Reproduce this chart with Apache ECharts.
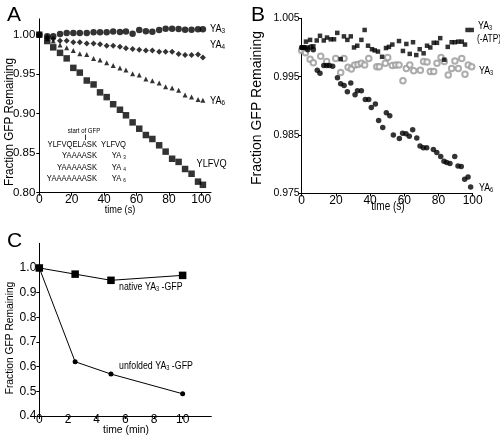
<!DOCTYPE html>
<html><head><meta charset="utf-8">
<script src="https://cdn.jsdelivr.net/npm/echarts@6/dist/echarts.min.js"></script>
<style>html,body{margin:0;padding:0;background:#fff}#c{width:500px;height:440px}</style>
</head><body><div id="c"></div>
<script>
// ---------- Panel A data ----------
const tA = [0, 4.9, 8.6, 12.8, 16.9, 21, 25, 29.3, 33.5, 37.5, 41.6, 45.6, 49.8, 53.5, 57.6, 61.7, 65.8, 69.8, 74, 78, 82, 86, 90, 94, 98, 101];
const aYA3 = [1.000, 0.998, 0.998, 1.001, 1.002, 1.002, 1.002, 1.002, 1.003, 1.003, 1.003, 1.004, 1.0035, 1.004, 1.0013, 1.006, 1.0043, 1.0038, 1.006, 1.0076, 1.0076, 1.0072, 1.0063, 1.0063, 1.0068, 1.0068];
const aYA4 = [1.000, 0.997, 0.995, 0.9924, 0.9924, 0.9903, 0.9903, 0.989, 0.989, 0.9878, 0.986, 0.986, 0.9848, 0.9828, 0.982, 0.981, 0.980, 0.980, 0.9785, 0.9785, 0.9785, 0.9756, 0.9743, 0.9743, 0.975, 0.971];
const aYA6 = [1.000, 0.995, 0.992, 0.987, 0.9835, 0.980, 0.976, 0.975, 0.970, 0.968, 0.9646, 0.961, 0.958, 0.9553, 0.9506, 0.949, 0.944, 0.9418, 0.939, 0.934, 0.9325, 0.9296, 0.9237, 0.921, 0.918, 0.917];
const aYLFVQ = [1.000, 0.992, 0.984, 0.977, 0.970, 0.958, 0.952, 0.942, 0.937, 0.927, 0.921, 0.912, 0.905, 0.898, 0.889, 0.881, 0.873, 0.868, 0.860, 0.852, 0.843, 0.839, 0.830, 0.824, 0.814, 0.810];
const aXTicks = [0, 20, 40, 60, 80, 100];
const aYTicks = [0.80, 0.85, 0.90, 0.95, 1.00];

// ---------- Panel B data ----------
const tBatp = [0.2, 1.3, 2.5, 3.3, 4.9, 6.8, 8.8, 10.7, 12.9, 14.8, 17, 18.9, 20.8, 22.8, 24.7, 26.7, 28.7, 30.6, 32.5, 34.9, 36.8, 38.8, 41.1, 42.7, 44.6, 47, 49.3, 51, 53, 56.9, 59.2, 61.2, 63.2, 65.1, 67, 69, 71.3, 73.3, 75.2, 77.2, 79.1, 81, 83.4, 85.4, 87.7, 89.6, 91.6, 93.6, 95.5, 97, 99.4];
const bYA3atp = [1.000, 1.000, 1.001, 1.000, 1.0013, 1.0002, 1.0012, 1.002, 1.0012, 1.0017, 1.0014, 1.0014, 1.0025, 0.998, 1.0019, 1.0013, 1.0019, 1.000, 1.0003, 1.0013, 1.003, 1.0003, 0.9997, 0.9995, 0.9993, 0.9984, 0.9999, 1.0001, 1.0005, 1.0011, 0.9994, 1.0006, 0.9989, 1.0009, 0.9987, 0.9997, 0.999, 1.0003, 1.000, 1.0008, 1.0008, 1.0016, 0.9979, 1.0001, 1.0009, 1.0009, 1.001, 1.001, 1.0005, 1.003, 1.003];
const tB3 = [0, 2.2, 4.9, 6.8, 11.1, 14.6, 19.9, 22.8, 24.7, 27.1, 29, 31, 32.9, 34.9, 36.8, 39.2, 43.9, 45.4, 48.9, 50.3, 53, 55, 56.9, 59.2, 61.2, 63.2, 65.5, 69.4, 71.3, 73.3, 75.2, 77.2, 79.1, 81.5, 83.4, 85.7, 87.7, 89.6, 91.6, 93.6, 95.5, 97.4, 99.4];
const bYA3 = [0.9995, 0.9991, 0.998, 0.9974, 0.9985, 0.9976, 0.9981, 0.9957, 0.9981, 0.9966, 0.9963, 0.997, 0.9971, 0.9973, 0.997, 0.9981, 0.9967, 0.9967, 0.9973, 0.9983, 0.9969, 0.997, 0.997, 0.9943, 0.9964, 0.997, 0.996, 0.9961, 0.9976, 0.9975, 0.9959, 0.9959, 0.9973, 0.9983, 0.9976, 0.9953, 0.9964, 0.9977, 0.9964, 0.9981, 0.9954, 0.997, 0.9967];
const tB6 = [0, 1.5, 3.5, 5.3, 6.8, 9.1, 10.7, 12.9, 14.6, 16.2, 18.1, 20.9, 22.8, 24.8, 26.7, 28.7, 31.2, 32.6, 34.9, 37.2, 39.2, 40.7, 43.1, 45, 47.4, 49.5, 51.5, 53.6, 57.1, 59, 61, 62.9, 64.9, 67.3, 69.2, 71.1, 73.1, 77, 79, 81.3, 83.2, 84.8, 86.7, 89.5, 91.4, 93.3, 95.3, 97.3, 98.8];
const bYA6 = [1.0000, 1.0000, 0.9996, 1.0001, 0.9996, 0.9961, 0.9956, 0.9969, 0.9969, 0.9969, 0.9968, 0.9948, 0.9938, 0.9935, 0.9924, 0.9939, 0.9919, 0.9926, 0.9926, 0.9911, 0.9911, 0.9897, 0.9903, 0.9875, 0.9863, 0.9888, 0.9883, 0.9850, 0.9844, 0.9853, 0.9852, 0.9848, 0.9859, 0.9845, 0.9831, 0.9828, 0.9828, 0.9825, 0.9820, 0.9813, 0.9805, 0.9803, 0.9801, 0.9813, 0.9797, 0.9796, 0.9774, 0.9778, 0.9761];
const bXTicks = [0, 20, 40, 60, 80, 100];
const bYTicks = [0.975, 0.985, 0.995, 1.005];

// ---------- Panel C data ----------
const tC = [0, 2.5, 5, 10];
const cNative = [1.0, 0.975, 0.95, 0.97];
const cUnfolded = [1.0, 0.62, 0.57, 0.49];
const cXTicks = [0, 2, 4, 6, 8, 10];
const cYTicks = [0.4, 0.5, 0.6, 0.7, 0.8, 0.9, 1.0];

const F = "'Liberation Sans',Arial,sans-serif";
const zip = (t, v) => t.map((x, i) => [x, v[i]]);

function xAx(gi, min, max, ticks, fs, margin) {
  return {
    gridIndex: gi, type: 'value', min: min, max: max,
    axisLine: {show: true, onZero: false, lineStyle: {color: '#000', width: 1}},
    axisTick: {show: true, length: 3, inside: false, customValues: ticks, lineStyle: {color: '#000'}},
    axisLabel: {customValues: ticks, margin: margin, fontSize: fs, color: '#000', fontFamily: F},
    splitLine: {show: false}
  };
}
function yAx(gi, min, max, ticks, dec, fs, margin) {
  return {
    gridIndex: gi, type: 'value', min: min, max: max,
    axisLine: {show: true, onZero: false, lineStyle: {color: '#000', width: 1}},
    axisTick: {show: true, length: 3, customValues: ticks, lineStyle: {color: '#000'}},
    axisLabel: {customValues: ticks, margin: margin, fontSize: fs, color: '#000', fontFamily: F,
      formatter: v => Number(v).toFixed(dec)},
    splitLine: {show: false}
  };
}
// text helper: sx = horizontal squeeze to mimic the condensed original typeface
function txt(x, y, text, fs, align, rich, sx, rot) {
  return {type: 'text', x: x, y: y, silent: true, scaleX: sx || 0.8, rotation: rot || 0,
    style: {text: text, fontSize: fs, fontFamily: F, fill: '#000', align: align || 'left', verticalAlign: 'middle', rich: rich}};
}
const sub = (fs) => ({a: {fontSize: fs, fontFamily: F, fill: '#000'}, s: {fontSize: Math.round(fs * 0.68), fontFamily: F, fill: '#000', padding: [4, 0, 0, 0]}});
const YN = 'Fraction GFP Remaining';

const option = {
  animation: false,
  backgroundColor: '#fff',
  textStyle: {fontFamily: F},
  title: [
    {text: 'A', left: 2, top: 0, textStyle: {fontSize: 21, fontWeight: 'normal', color: '#000', fontFamily: F}},
    {text: 'B', left: 246, top: 0, textStyle: {fontSize: 21, fontWeight: 'normal', color: '#000', fontFamily: F}},
    {text: 'C', left: 2, top: 226, textStyle: {fontSize: 21, fontWeight: 'normal', color: '#000', fontFamily: F}}
  ],
  grid: [
    {left: 39.3, top: 18.9, width: 171.7, height: 173.8},
    {left: 301.7, top: 18.3, width: 171, height: 175},
    {left: 39.3, top: 243.3, width: 172, height: 172.7}
  ],
  xAxis: [
    xAx(0, 0, 106, aXTicks, 12, 1),
    xAx(1, 0, 100, bXTicks, 12, 1),
    xAx(2, 0, 12, cXTicks, 12, -2)
  ],
  yAxis: [
    yAx(0, 0.80, 1.02, aYTicks, 2, 11.5, 4),
    yAx(1, 0.975, 1.005, bYTicks, 3, 10.5, 2),
    yAx(2, 0.4, 1.1, cYTicks, 1, 12, 3)
  ],
  series: [
    {type: 'scatter', xAxisIndex: 0, yAxisIndex: 0, symbol: 'circle', symbolSize: 6.5, itemStyle: {color: '#000'}, data: zip(tA, aYA3)},
    {type: 'scatter', xAxisIndex: 0, yAxisIndex: 0, symbol: 'diamond', symbolSize: 6, itemStyle: {color: '#000'}, data: zip(tA, aYA4)},
    {type: 'scatter', xAxisIndex: 0, yAxisIndex: 0, symbol: 'triangle', symbolSize: 5, itemStyle: {color: '#000'}, data: zip(tA, aYA6)},
    {type: 'scatter', xAxisIndex: 0, yAxisIndex: 0, symbol: 'rect', symbolSize: 6.5, itemStyle: {color: '#000'}, data: zip(tA, aYLFVQ)},

    {type: 'scatter', xAxisIndex: 1, yAxisIndex: 1, symbol: 'emptyCircle', symbolSize: 5.5, itemStyle: {color: '#999', borderColor: '#999', borderWidth: 0.8}, data: zip(tB3, bYA3)},
    {type: 'scatter', xAxisIndex: 1, yAxisIndex: 1, symbol: 'circle', symbolSize: 5.5, itemStyle: {color: '#000'}, data: zip(tB6, bYA6)},
    {type: 'scatter', xAxisIndex: 1, yAxisIndex: 1, symbol: 'rect', symbolSize: 4.5, itemStyle: {color: '#000'}, data: zip(tBatp, bYA3atp)},

    {type: 'line', xAxisIndex: 2, yAxisIndex: 2, symbol: 'circle', symbolSize: 5, showSymbol: true, lineStyle: {color: '#000', width: 1}, itemStyle: {color: '#000'}, data: zip(tC, cUnfolded)},
    {type: 'line', xAxisIndex: 2, yAxisIndex: 2, symbol: 'rect', symbolSize: 7.5, showSymbol: true, lineStyle: {color: '#000', width: 1}, itemStyle: {color: '#000'}, data: zip(tC, cNative)}
  ],
  graphic: [
    // axis names
    txt(9.5, 122, YN, 12.5, 'center', null, 0.93, Math.PI / 2),
    txt(257, 108, YN, 14, 'center', null, 1.0, Math.PI / 2),
    txt(9.5, 338, YN, 11.5, 'center', null, 0.89, Math.PI / 2),
    txt(120, 210, 'time (s)', 11.5, 'center'),
    txt(388, 207, 'time (s)', 12.5, 'center'),
    txt(126, 429.5, 'time (min)', 11.5, 'center', null, 0.9),
    // Panel A series names
    txt(210, 28.5, '{a|YA}{s|3}', 11.5, 'left', sub(11.5)),
    txt(210, 45, '{a|YA}{s|4}', 11.5, 'left', sub(11.5)),
    txt(210, 101, '{a|YA}{s|6}', 11.5, 'left', sub(11.5)),
    txt(196.5, 164, 'YLFVQ', 11.5),
    // Panel A sequence table
    txt(84, 131, 'start of GFP', 7.5, 'center'),
    {type: 'line', silent: true, shape: {x1: 85.5, y1: 134.5, x2: 85.5, y2: 140}, style: {stroke: '#000', lineWidth: 0.8}},
    txt(97, 144, 'YLFVQELASK', 9.5, 'right'),
    txt(97, 155.7, 'YAAAASK', 9.5, 'right'),
    txt(97, 167, 'YAAAAASK', 9.5, 'right'),
    txt(97, 178.3, 'YAAAAAAASK', 9.5, 'right'),
    txt(126, 144, 'YLFVQ', 9.5, 'right'),
    txt(126, 155.7, '{a|YA }{s|3}', 9.5, 'right', sub(9.5)),
    txt(126, 167, '{a|YA }{s|4}', 9.5, 'right', sub(9.5)),
    txt(126, 178.3, '{a|YA }{s|6}', 9.5, 'right', sub(9.5)),
    // Panel B names
    txt(478, 26, '{a|YA}{s|3}', 11, 'left', sub(11)),
    txt(477, 39, '(-ATP)', 10.5),
    txt(479, 71, '{a|YA}{s|3}', 11, 'left', sub(11)),
    txt(479, 188, '{a|YA}{s|6}', 11, 'left', sub(11)),
    // Panel C names
    txt(119, 287, '{a|native YA}{s|3}{a| -GFP}', 11, 'left', sub(11)),
    txt(119, 366, '{a|unfolded YA}{s|3}{a| -GFP}', 11, 'left', sub(11))
  ]
};
const chart = echarts.init(document.getElementById('c'), null, {renderer: 'canvas'});
chart.setOption(option);
</script></body></html>
